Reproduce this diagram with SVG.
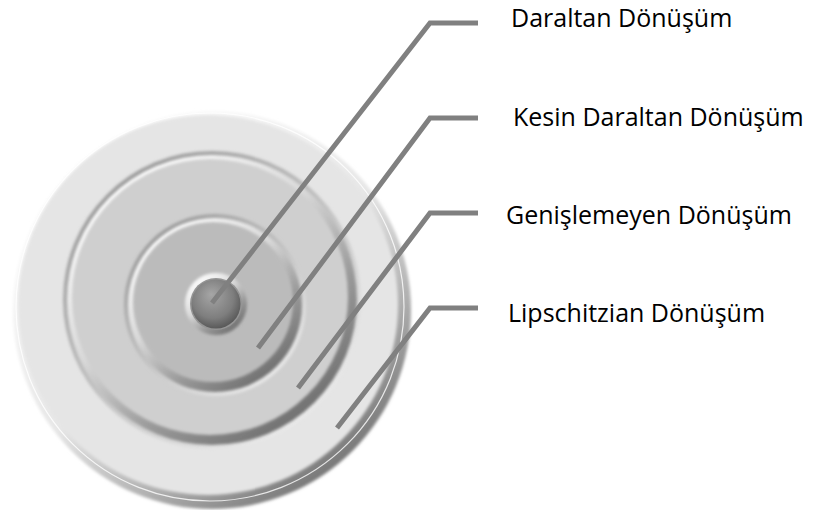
<svg xmlns="http://www.w3.org/2000/svg" width="814" height="510" viewBox="0 0 814 510">
  <style>
    .lbl { font-family: "Open Sans", "Liberation Sans", sans-serif; font-size: 25px; fill: #000000; }
    .conn { fill: none; stroke: #808080; stroke-width: 5; stroke-linejoin: miter; }
  </style>
  <defs>
    <linearGradient id="rim" x1="0.15" y1="0.1" x2="0.8" y2="0.95">
      <stop offset="0" stop-color="#ffffff"/>
      <stop offset="0.5" stop-color="#e6e6e6"/>
      <stop offset="0.75" stop-color="#b0b0b0"/>
      <stop offset="1" stop-color="#707070"/>
    </linearGradient>
    <linearGradient id="rimIn" x1="0.15" y1="0.1" x2="0.8" y2="0.95">
      <stop offset="0" stop-color="#ffffff"/>
      <stop offset="0.4" stop-color="#d8d8d8"/>
      <stop offset="0.7" stop-color="#9a9a9a"/>
      <stop offset="1" stop-color="#6c6c6c"/>
    </linearGradient>
    <linearGradient id="groove" x1="0.15" y1="0.1" x2="0.85" y2="0.95">
      <stop offset="0" stop-color="#9a9a9a"/>
      <stop offset="0.5" stop-color="#c4c4c4"/>
      <stop offset="1" stop-color="#f0f0f0"/>
    </linearGradient>
    <radialGradient id="ball" cx="0.45" cy="0.4" r="0.6" fx="0.4" fy="0.3">
      <stop offset="0" stop-color="#a6a6a6"/>
      <stop offset="0.7" stop-color="#7e7e7e"/>
      <stop offset="1" stop-color="#5a5a5a"/>
    </radialGradient>
    <filter id="soft" x="-10%" y="-10%" width="120%" height="120%">
      <feGaussianBlur stdDeviation="1.6"/>
    </filter>
  </defs>

  <g id="node-lipschitzian">
    <circle cx="212" cy="310" r="199" fill="url(#rim)" filter="url(#soft)"/>
    <circle cx="208" cy="305" r="190" fill="#e5e5e5" filter="url(#soft)"/>
    <circle cx="210" cy="307" r="194" fill="none" stroke="#ffffff" stroke-width="1.2" opacity="0.8"/>
    <text class="lbl" x="508" y="322">Lipschitzian Dönüşüm</text>
  </g>

  <g id="node-genislemeyen">
    <circle cx="212" cy="300" r="149" fill="url(#groove)" filter="url(#soft)"/>
    <circle cx="212" cy="300" r="145" fill="url(#rimIn)" filter="url(#soft)"/>
    <circle cx="210" cy="297" r="138" fill="#cfcfcf" filter="url(#soft)"/>
    <text class="lbl" x="506" y="224">Genişlemeyen Dönüşüm</text>
  </g>

  <g id="node-kesin">
    <circle cx="215" cy="305" r="91" fill="url(#groove)" filter="url(#soft)"/>
    <circle cx="215" cy="305" r="87" fill="url(#rimIn)" filter="url(#soft)"/>
    <circle cx="213" cy="302" r="80" fill="#bbbbbb" filter="url(#soft)"/>
    <text class="lbl" x="513" y="126">Kesin Daraltan Dönüşüm</text>
  </g>

  <g id="node-daraltan">
    <circle cx="216" cy="304" r="31" fill="url(#rimIn)" filter="url(#soft)"/>
    <circle cx="216" cy="304" r="26" fill="#959595"/>
    <circle cx="216" cy="304" r="24.5" fill="url(#ball)"/>
    <text class="lbl" x="511" y="27">Daraltan Dönüşüm</text>
  </g>

  <g id="connectors">
    <polyline class="conn" points="212,303 430,23 478,23"/>
    <polyline class="conn" points="258,348 430,118 478,118"/>
    <polyline class="conn" points="298,388 430,213 478,213"/>
    <polyline class="conn" points="337,428 430,308 478,308"/>
  </g>
</svg>
